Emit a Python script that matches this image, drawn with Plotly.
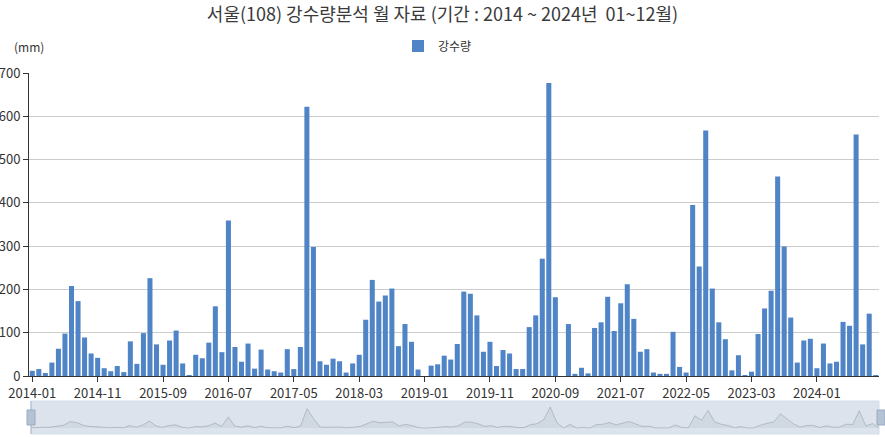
import plotly.graph_objects as go

months = [f"{y}-{m:02d}" for y in range(2014, 2025) for m in range(1, 13)][:130]

rain = [
    12, 16, 7, 31, 63, 98, 208, 173, 89, 52, 42, 18,          # 2014
    11, 23, 9, 80, 28, 99, 226, 73, 26, 82, 105, 29,          # 2015
    1, 49, 41, 77, 161, 55, 359, 67, 33, 75, 17, 61,          # 2016
    15, 11, 8, 62, 16, 67, 622, 298, 34, 26, 40, 34,          # 2017
    8, 29, 49, 130, 222, 172, 186, 202, 69, 120, 79, 15,      # 2018
    0, 24, 27, 47, 38, 74, 195, 190, 140, 56, 79, 23,         # 2019
    60, 52, 16, 16, 113, 140, 271, 677, 182, 0, 120, 5,       # 2020
    19, 6, 111, 124, 183, 104, 168, 212, 132, 56, 62, 8,      # 2021
    5, 5, 102, 21, 8, 395, 253, 567, 202, 124, 85, 13,        # 2022
    48, 1, 10, 97, 156, 197, 461, 299, 135, 31, 82, 86,       # 2023
    18, 75, 29, 33, 125, 116, 558, 73, 144, 2,                # 2024
]

tick_labels = months[::10]
y_ticks = [0, 100, 200, 300, 400, 500, 600, 700]

W, H = 885, 437
FONT = "Noto Sans CJK KR, Noto Sans, sans-serif"

fig = go.Figure()
fig.add_trace(go.Bar(
    x=months, y=rain, name="강수량",
    marker=dict(color="#4f84c6", line=dict(width=0)),
    xaxis="x", yaxis="y",
))
# data shadow in the zoom slider
fig.add_trace(go.Scatter(
    x=list(range(len(rain))), y=rain, mode="lines",
    line=dict(color="rgba(47,69,84,0.22)", width=1),
    fill="tozeroy", fillcolor="rgba(47,69,84,0.07)",
    xaxis="x2", yaxis="y2", showlegend=False, hoverinfo="skip",
))

def py(px):  # pixel y -> paper fraction
    return 1 - px / H

def pxx(px):  # pixel x -> paper fraction (paper spans 29..879)
    return (px - 29) / 850

fig.update_layout(
    width=W, height=H,
    margin=dict(l=29, r=6, t=0, b=0, autoexpand=False),
    paper_bgcolor="white", plot_bgcolor="white",
    font=dict(family=FONT, size=12, color="#333"),
    bargap=0.23,
    title=dict(text="서울(108) 강수량분석 월 자료 (기간 : 2014 ~ 2024년  01~12월)",
               x=0.5, xanchor="center", y=1 - 15 / H, yanchor="middle",
               font=dict(size=18, color="#3a3a3a", family=FONT)),
    showlegend=True,
    legend=dict(orientation="h", x=pxx(398), xanchor="left", y=py(46), yanchor="middle",
                font=dict(size=12, color="#333"), itemwidth=30,
                bgcolor="rgba(0,0,0,0)"),
    xaxis=dict(type="category", domain=[0, 1], anchor="y",
               range=[-0.5, len(months) - 0.5],
               tickmode="array", tickvals=tick_labels, ticktext=tick_labels,
               ticks="outside", ticklen=5, tickcolor="#333",
               showline=True, linecolor="#333", linewidth=1,
               showgrid=False, tickfont=dict(size=13, color="#333")),
    yaxis=dict(domain=[py(376), py(73)], anchor="x", range=[0, 700],
               tickvals=y_ticks, ticks="outside", ticklen=5, tickcolor="#333",
               showline=True, linecolor="#333", linewidth=1,
               showgrid=True, gridcolor="#ccc", gridwidth=1, zeroline=False,
               tickfont=dict(size=13, color="#333")),
    xaxis2=dict(domain=[pxx(31), pxx(879)], anchor="y2", range=[0, len(rain) - 1],
                visible=False, fixedrange=True),
    yaxis2=dict(domain=[py(434), py(401)], anchor="x2", range=[-190, 870],
                visible=False, fixedrange=True),
    annotations=[dict(text="(mm)", xref="paper", yref="paper", x=pxx(29), y=py(47),
                      xanchor="center", yanchor="middle", showarrow=False,
                      font=dict(size=12, color="#333"))],
    shapes=[
        dict(type="rect", xref="x2 domain", yref="y2 domain", x0=0, x1=1, y0=0, y1=1,
             fillcolor="#dde3ec", line=dict(color="#d2dbee", width=1), layer="below"),
        dict(type="line", xref="x2 domain", yref="y2 domain", x0=0, x1=0, y0=0, y1=1,
             line=dict(color="#a7b7cc", width=1)),
        dict(type="rect", xref="paper", yref="paper", x0=pxx(27), x1=pxx(35),
             y0=py(425), y1=py(410), fillcolor="#b4c2d4", line=dict(color="#9aabc2", width=1)),
        dict(type="rect", xref="paper", yref="paper", x0=pxx(877), x1=pxx(885),
             y0=py(425), y1=py(410), fillcolor="#b4c2d4", line=dict(color="#9aabc2", width=1)),
    ],
)

fig.write_html("out.html", config={"displayModeBar": False},
               post_script="document.body.style.margin='0';")
